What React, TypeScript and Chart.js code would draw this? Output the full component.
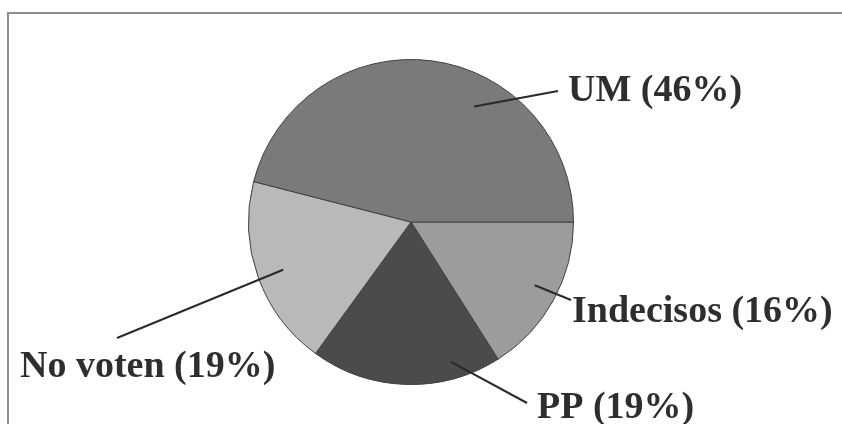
import React, { useEffect, useRef } from "react";
import { Chart, registerables } from "chart.js";

Chart.register(...registerables);

const categories = ["Indecisos", "PP", "No voten", "UM"];
const shares = [16, 19, 19, 46];
const labelTexts = ["Indecisos (16%)", "PP (19%)", "No voten (19%)", "UM (46%)"];
const sliceColors = ["#9c9c9c", "#4b4b4b", "#b9b9b9", "#7a7a7a"];

// leader-line layout: anchor inside slice (fraction of slice angle, fraction of radius),
// elbow end and text offsets relative to the pie centre
const anchorFrac = [0.47, 0.24, 0.49, 0.63];
const anchorRad = [0.855, 0.895, 0.84, 0.81];
const lineEnd: [number, number][] = [[160, 78], [116, 181], [-294, 116], [147, -131]];
const textPos: [number, number][] = [[161, 100], [126, 196], [-391, 155], [157, -121]];

const framePlugin = {
  id: "frame",
  beforeDraw(chart: any) {
    const ctx = chart.ctx;
    ctx.save();
    ctx.strokeStyle = "#8c8c8c";
    ctx.lineWidth = 2;
    ctx.beginPath();
    ctx.moveTo(8, chart.height);
    ctx.lineTo(8, 13);
    ctx.lineTo(chart.width, 13);
    ctx.stroke();
    ctx.restore();
  },
};

const labelPlugin = {
  id: "leaderLabels",
  afterDraw(chart: any) {
    const ctx = chart.ctx;
    const meta = chart.getDatasetMeta(0);
    ctx.save();
    meta.data.forEach((arc: any, i: number) => {
      const { x, y, startAngle, endAngle, outerRadius } = arc.getProps(
        ["x", "y", "startAngle", "endAngle", "outerRadius"],
        true
      );
      const a = startAngle + (endAngle - startAngle) * anchorFrac[i];
      const r = outerRadius * anchorRad[i];
      const sx = x + Math.cos(a) * r;
      const sy = y + Math.sin(a) * r;
      ctx.strokeStyle = "#2a2a2a";
      ctx.lineWidth = 2;
      ctx.beginPath();
      ctx.moveTo(sx, sy);
      ctx.lineTo(x + lineEnd[i][0], y + lineEnd[i][1]);
      ctx.stroke();
      ctx.fillStyle = "#2e2e2e";
      ctx.font = "bold 38px 'Liberation Serif', 'Times New Roman', serif";
      ctx.textAlign = "left";
      ctx.textBaseline = "alphabetic";
      ctx.fillText(labelTexts[i], x + textPos[i][0], y + textPos[i][1]);
    });
    ctx.restore();
  },
};

export default function App() {
  const ref = useRef<HTMLCanvasElement | null>(null);
  useEffect(() => {
    if (!ref.current) return;
    const chart = new Chart(ref.current, {
      type: "pie",
      data: {
        labels: categories,
        datasets: [
          {
            data: shares,
            backgroundColor: sliceColors,
            borderColor: "#404040",
            borderWidth: 1,
          },
        ],
      },
      options: {
        animation: false,
        responsive: false,
        rotation: 90,
        layout: { padding: { left: 0, right: 20, top: 59, bottom: 39 } },
        plugins: {
          legend: { display: false },
          tooltip: { enabled: false },
        },
      },
      plugins: [framePlugin, labelPlugin],
    });
    return () => chart.destroy();
  }, []);
  return (
    <div style={{ position: "absolute", left: 0, top: 0, width: 842, height: 424, background: "#ffffff" }}>
      <canvas ref={ref} width={842} height={424} style={{ display: "block" }} />
    </div>
  );
}
